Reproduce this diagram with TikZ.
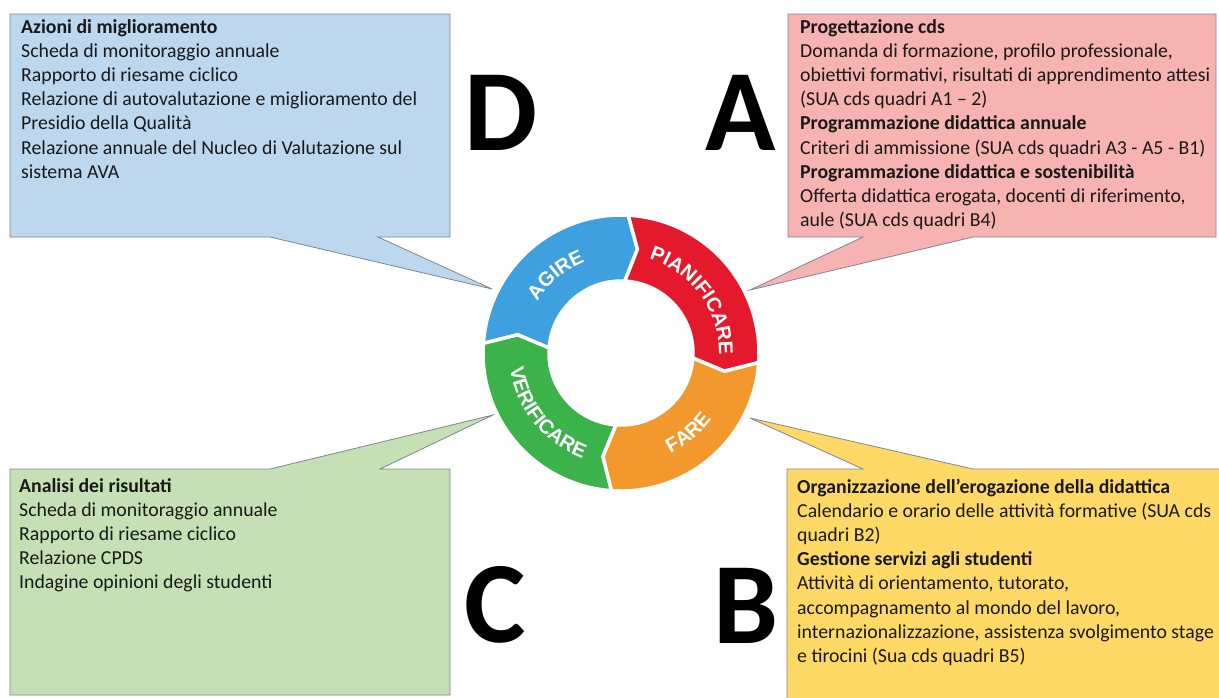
\documentclass[tikz,border=0pt]{standalone}
\usepackage{fontspec}
\setmainfont{Carlito}
\newfontfamily\ringfont{Liberation Sans}
\usetikzlibrary{decorations.text}
\definecolor{dfill}{RGB}{189,215,238}
\definecolor{afill}{RGB}{247,178,178}
\definecolor{cfill}{RGB}{197,224,180}
\definecolor{bfill}{RGB}{255,217,102}
\definecolor{boxline}{RGB}{125,135,145}
\definecolor{ringblue}{RGB}{62,160,222}
\definecolor{ringred}{RGB}{228,26,44}
\definecolor{ringorange}{RGB}{242,152,44}
\definecolor{ringgreen}{RGB}{60,178,74}
\newcommand\ringseg[3]{%
  \path[fill=#3, draw=white, line width=3.5pt, line join=miter]
    (#1:138) arc[start angle=#1, end angle=#2, radius=138]
    -- ({#2-6}:105) -- (#2:72)
    arc[start angle=#2, end angle=#1, radius=72]
    -- ({#1-6}:105) -- cycle;}
\newcommand\ringlabel[4]{%
  \path[decorate, decoration={text along path, text align=center,
     text={|\ringfont\bfseries\fontsize{20}{20}\selectfont\color{white}|#4}}]
     (#1:#3) arc[start angle=#1, end angle=#2, radius=#3];}
\begin{document}
\begin{tikzpicture}[x=1pt, y=-1pt,
  calloutbox/.style={draw=boxline, line width=0.8pt, line join=miter},
  boxtext/.style={anchor=base west, inner sep=0pt, text=black!90,
     font=\fontsize{19.8}{24.2}\selectfont},
  bigletter/.style={anchor=base, inner sep=0pt, text=black,
     font=\bfseries\fontsize{116}{116}\selectfont}]
\useasboundingbox (0,0) rectangle (1219,697);
\fill[white] (0,0) rectangle (1219,697);
\clip (0,0) rectangle (1219,697);

% pointer tips
\coordinate (dtip) at (492,289);
\coordinate (atip) at (750,290);
\coordinate (ctip) at (493,415);
\coordinate (btip) at (750,418);

% callout boxes
\draw[calloutbox, fill=dfill] (10,14) -- (450,14) -- (450,237) -- (378,237)
   -- (dtip) -- (270,237) -- (10,237) -- cycle;
\draw[calloutbox, fill=afill] (788,14) -- (1216,14) -- (1216,237) -- (973,237)
   -- (atip) -- (863,237) -- (788,237) -- cycle;
\draw[calloutbox, fill=cfill] (10,469) -- (270,469) -- (ctip) -- (380,469)
   -- (450,469) -- (450,695) -- (10,695) -- cycle;
\draw[calloutbox, fill=bfill] (787,469) -- (863,469) -- (btip) -- (973,469)
   -- (1230,469) -- (1230,710) -- (787,710) -- cycle;

% texts
\node[boxtext] (dtext) at (21,33) {\parbox[t]{430pt}{\raggedright
\textbf{Azioni di miglioramento}\\
Scheda di monitoraggio annuale\\
Rapporto di riesame ciclico\\
Relazione di autovalutazione e miglioramento del\\
Presidio della Qualità\\
Relazione annuale del Nucleo di Valutazione sul\\
sistema AVA}};
\node[boxtext] (atext) at (800,33) {\parbox[t]{430pt}{\raggedright
\textbf{Progettazione cds}\\
Domanda di formazione, profilo professionale,\\
obiettivi formativi, risultati di apprendimento attesi\\
(SUA cds quadri A1 – 2)\\
\textbf{Programmazione didattica annuale}\\
Criteri di ammissione (SUA cds quadri A3 - A5 - B1)\\
\textbf{Programmazione didattica e sostenibilità}\\
Offerta didattica erogata, docenti di riferimento,\\
aule (SUA cds quadri B4)}};
\node[boxtext] (ctext) at (19,492) {\parbox[t]{430pt}{\raggedright
\textbf{Analisi dei risultati}\\
Scheda di monitoraggio annuale\\
Rapporto di riesame ciclico\\
Relazione CPDS\\
Indagine opinioni degli studenti}};
\node[boxtext] (btext) at (797,493) {\parbox[t]{430pt}{\raggedright
\textbf{Organizzazione dell’erogazione della didattica}\\
Calendario e orario delle attività formative (SUA cds\\
quadri B2)\\
\textbf{Gestione servizi agli studenti}\\
Attività di orientamento, tutorato,\\
accompagnamento al mondo del lavoro,\\
internazionalizzazione, assistenza svolgimento stage\\
e tirocini (Sua cds quadri B5)}};

% big letters
\node[bigletter] (letD) at (501,150) {D};
\node[bigletter] (letA) at (741,150) {A};
\node[bigletter] (letC) at (495,642) {C};
\node[bigletter] (letB) at (746,643) {B};

% cycle
\coordinate (ctr) at (621,353);
\begin{scope}[shift={(ctr)}, y=1pt]
  \ringseg{176}{87}{ringblue}
  \ringseg{87}{-4}{ringred}
  \ringseg{-4}{-94}{ringorange}
  \ringseg{-94}{-184}{ringgreen}
  \ringlabel{168}{92}{98}{AGIRE}
  \ringlabel{82}{-10}{98}{PIANIFICARE}
  \ringlabel{-92}{-8}{112}{FARE}
  \ringlabel{-188}{-94}{112}{VERIFICARE}
\end{scope}
\end{tikzpicture}
\end{document}
